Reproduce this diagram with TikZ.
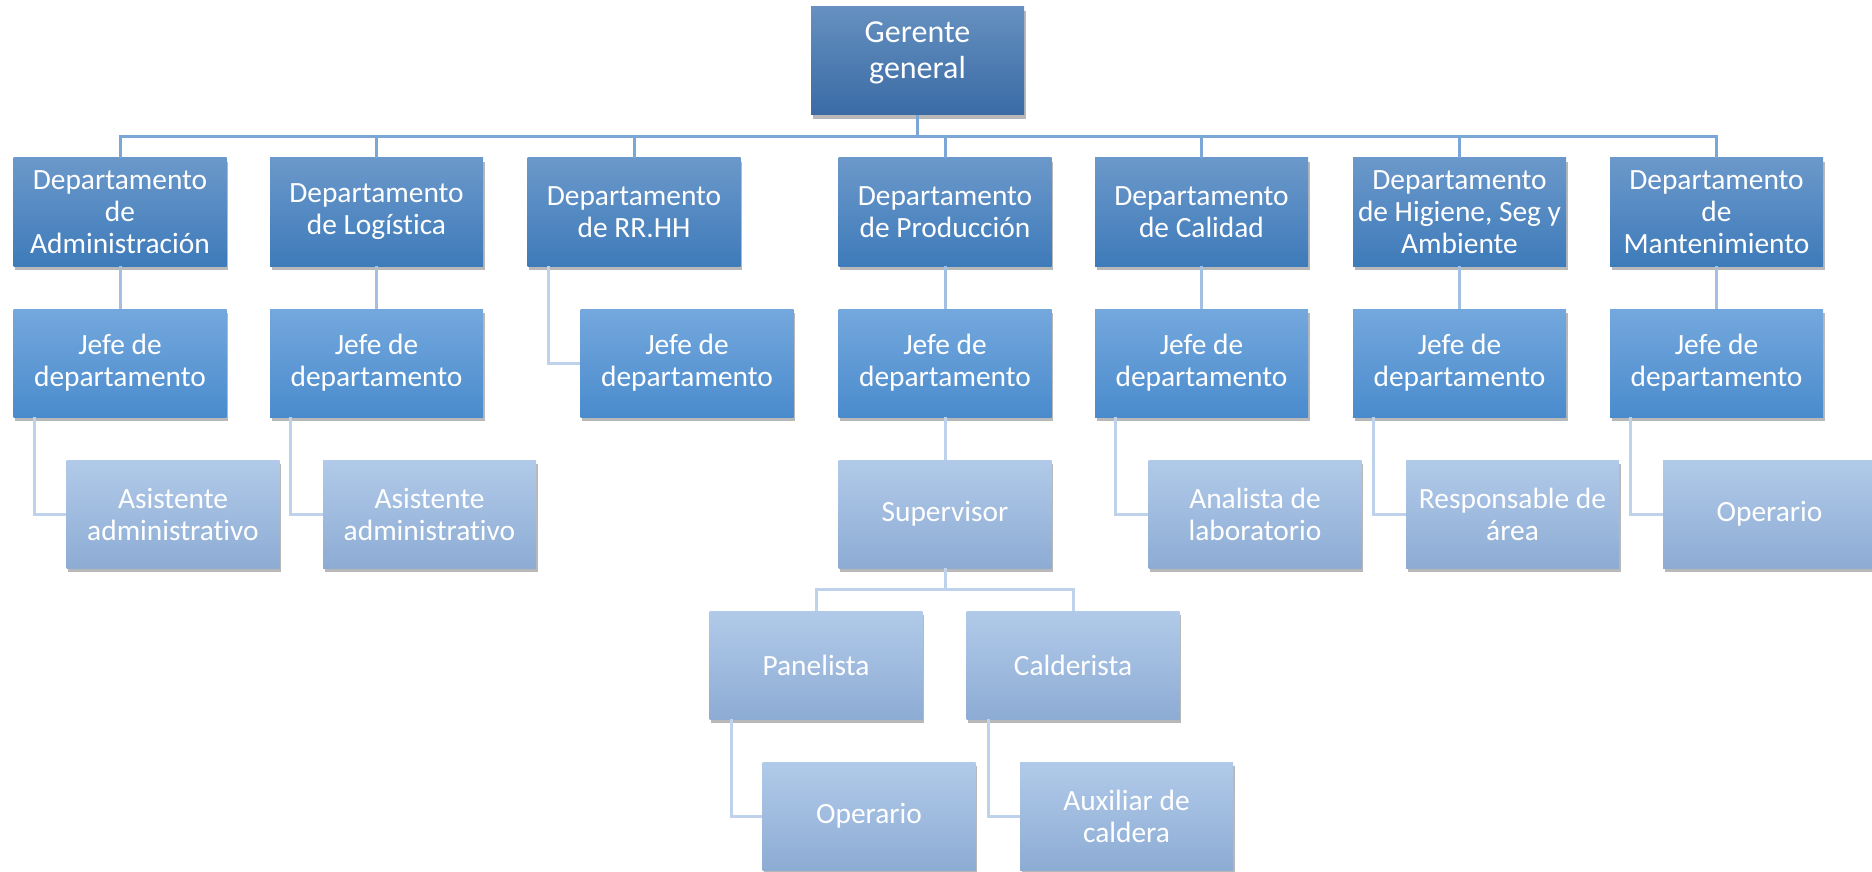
\documentclass[tikz,border=0pt]{standalone}
\usepackage{fontspec}
\setmainfont{Carlito}[Ligatures=NoCommon]
\usetikzlibrary{shadows,calc}
\definecolor{gtop}{HTML}{6590C0}
\definecolor{gbot}{HTML}{3A6BA5}
\definecolor{dtop}{HTML}{6B98CA}
\definecolor{dbot}{HTML}{3E7BBA}
\definecolor{jtop}{HTML}{74A8DD}
\definecolor{jbot}{HTML}{4A8BCD}
\definecolor{ltop}{HTML}{B1CAE9}
\definecolor{lbot}{HTML}{8DACD4}
\definecolor{busc}{HTML}{7BA7D7}
\definecolor{midc}{HTML}{A3BFE2}
\definecolor{lowc}{HTML}{BED2EB}
\tikzset{
  boxbase/.style={rectangle, minimum width=213pt, minimum height=108pt, inner sep=0pt,
    text=white, align=center, font=\fontsize{29.4pt}{32pt}\selectfont,
    drop shadow={shadow xshift=1.5pt, shadow yshift=-4pt, opacity=0.28, fill=black}},
  gerbox/.style={boxbase, top color=gtop, bottom color=gbot, font=\fontsize{32pt}{36pt}\selectfont},
  deptbox/.style={boxbase, top color=dtop, bottom color=dbot},
  jefebox/.style={boxbase, top color=jtop, bottom color=jbot},
  lightbox/.style={boxbase, top color=ltop, bottom color=lbot},
  busline/.style={draw=busc, line width=3pt},
  midline/.style={draw=midc, line width=3pt},
  lowline/.style={draw=lowc, line width=3pt}
}
\begin{document}
\begin{tikzpicture}[x=1pt, y=-1pt]
\useasboundingbox (0,0) rectangle (1872,872);
% nodes
\node[gerbox] (ger) at (917.5,61) {\raisebox{7.5pt}[\height][\depth]{\begin{tabular}{@{}c@{}}Gerente\\general\end{tabular}}};
\node[deptbox] (dadm) at (120,212) {Departamento\\de\\Administración};
\node[deptbox] (dlog) at (376.5,212) {Departamento\\de Logística};
\node[deptbox] (drh) at (634,212) {Departamento\\de RR.HH};
\node[deptbox] (dprod) at (945,212) {Departamento\\de Producción};
\node[deptbox] (dcal) at (1201.5,212) {Departamento\\de Calidad};
\node[deptbox] (dhig) at (1459.5,212) {Departamento\\de Higiene, Seg y\\Ambiente};
\node[deptbox] (dman) at (1716.5,212) {Departamento\\de\\Mantenimiento};
\node[jefebox] (jadm) at (120,363) {Jefe de\\departamento};
\node[jefebox] (jlog) at (376.5,363) {Jefe de\\departamento};
\node[jefebox] (jrh) at (687,363) {Jefe de\\departamento};
\node[jefebox] (jprod) at (945,363) {Jefe de\\departamento};
\node[jefebox] (jcal) at (1201.5,363) {Jefe de\\departamento};
\node[jefebox] (jhig) at (1459.5,363) {Jefe de\\departamento};
\node[jefebox] (jman) at (1716.5,363) {Jefe de\\departamento};
\node[lightbox] (aadm) at (173,514) {Asistente\\administrativo};
\node[lightbox] (alog) at (429.5,514) {Asistente\\administrativo};
\node[lightbox] (sup) at (945,514) {Supervisor};
\node[lightbox] (anal) at (1255,514) {Analista de\\laboratorio};
\node[lightbox] (resp) at (1512.5,514) {Responsable de\\área};
\node[lightbox] (opman) at (1769.5,514) {Operario};
\node[lightbox] (pan) at (816,665) {Panelista};
\node[lightbox] (cal) at (1073,665) {Calderista};
\node[lightbox] (oppan) at (869,816) {Operario};
\node[lightbox] (aux) at (1126.5,816) {Auxiliar de\\caldera};
% connectors
\foreach \d in {dadm,dlog,drh,dprod,dcal,dhig,dman}
  \draw[busline] (ger.south) -- ++(0,21) -| (\d.north);
\foreach \d/\j in {dadm/jadm,dlog/jlog,dprod/jprod,dcal/jcal,dhig/jhig,dman/jman}
  \draw[midline] (\d.south) -- (\j.north);
\draw[lowline] ([xshift=21pt]drh.south west) |- (jrh.west);
\foreach \j/\a in {jadm/aadm,jlog/alog,jcal/anal,jhig/resp,jman/opman}
  \draw[lowline] ([xshift=21pt]\j.south west) |- (\a.west);
\draw[lowline] (jprod.south) -- (sup.north);
\draw[lowline] (sup.south) -- ++(0,21) -| (pan.north);
\draw[lowline] (sup.south) -- ++(0,21) -| (cal.north);
\draw[lowline] ([xshift=22pt]pan.south west) |- (oppan.west);
\draw[lowline] ([xshift=22pt]cal.south west) |- (aux.west);
\end{tikzpicture}
\end{document}
